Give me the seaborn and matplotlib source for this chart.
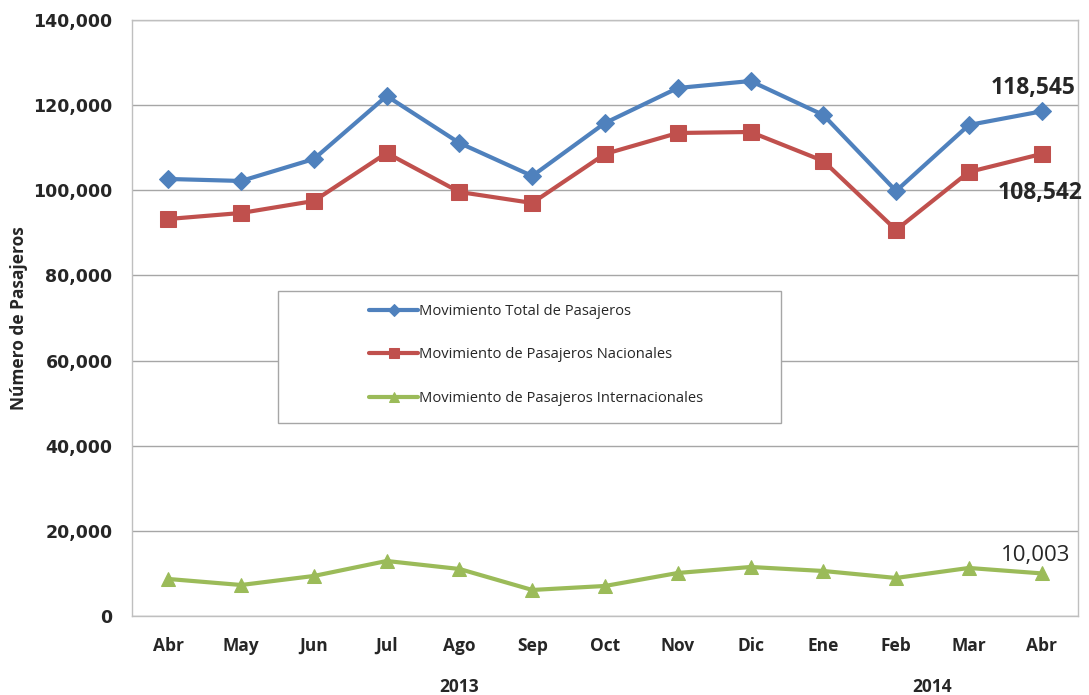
import matplotlib
matplotlib.use("Agg")
import matplotlib.pyplot as plt
from matplotlib.patches import Rectangle
import seaborn as sns
import pandas as pd
import numpy as np

months = ["Abr", "May", "Jun", "Jul", "Ago", "Sep", "Oct", "Nov", "Dic", "Ene", "Feb", "Mar", "Abr"]
total = [102660, 102190, 107350, 122150, 111110, 103360, 115810, 124030, 125670, 117690, 99840, 115340, 118545]
nacional = [93260, 94670, 97490, 108760, 99600, 97020, 108530, 113460, 113700, 106890, 90680, 104300, 108542]
internacional = [8690, 7280, 9400, 12920, 11040, 6110, 7050, 10100, 11510, 10570, 8930, 11280, 10003]
series_names = ["Movimiento Total de Pasajeros", "Movimiento de Pasajeros Nacionales",
                "Movimiento de Pasajeros Internacionales"]
years = ["2013", "2014"]
year_pos = [4, 10.5]

colors = ["#4F81BD", "#C0504D", "#9BBB59"]
markers = ["D", "s", "^"]
msizes = [9, 11, 10]

sns.set_style("white")
plt.rcParams['font.family'] = ['DejaVu Sans']

fig = plt.figure(figsize=(10.89, 6.95), dpi=100)
ax = fig.add_axes([0.1212, 0.1137, 0.8687, 0.8575])

idx = np.arange(len(months))
data = [total, nacional, internacional]
for name, vals, c, m, ms in zip(series_names, data, colors, markers, msizes):
    df = pd.DataFrame({"x": idx, "y": vals})
    sns.lineplot(data=df, x="x", y="y", ax=ax, color=c, linewidth=3, marker=m,
                 markersize=ms, markeredgecolor=c, label=name, zorder=3)

ax.set_xlim(-0.5, len(months) - 0.5)
ax.set_ylim(0, 140000)
ax.set_yticks(np.arange(0, 140001, 20000))
ax.yaxis.set_major_formatter(matplotlib.ticker.FuncFormatter(lambda v, p: f"{int(v):,}"))
ax.set_xticks(idx)
ax.set_xticklabels(months, fontfamily="Open Sans", fontweight="bold", fontsize=12.5)
for lab in ax.get_yticklabels():
    lab.set_fontweight("bold")
    lab.set_fontsize(12.5)
ax.tick_params(axis="both", length=0)
ax.tick_params(axis="x", pad=15)
ax.tick_params(axis="y", pad=14)
ax.grid(axis="y", color="#A6A6A6", linewidth=1)
ax.set_axisbelow(True)
for s in ax.spines.values():
    s.set_color("#BFBFBF")
    s.set_linewidth(1)
ax.set_xlabel("")
ax.set_ylabel("Número de Pasajeros", fontfamily="Open Sans", fontweight="bold", fontsize=12.5, labelpad=4)

for yr, pos in zip(years, year_pos):
    ax.text(pos, -0.12, yr, transform=ax.get_xaxis_transform(), ha="center", va="center",
            fontfamily="Open Sans", fontweight="bold", fontsize=12.5)

last = len(months) - 1
ax.annotate(f"{total[-1]:,}", (last, total[-1]), xytext=(-6, 17), textcoords="offset points",
            ha="center", va="center", fontfamily="Open Sans", fontweight="bold", fontsize=16.5)
ax.annotate(f"{nacional[-1]:,}", (last, nacional[-1]), xytext=(-1, -28), textcoords="offset points",
            ha="center", va="center", fontfamily="Open Sans", fontweight="bold", fontsize=16.5)
ax.annotate(f"{internacional[-1]:,}", (last, internacional[-1]), xytext=(-4, 13), textcoords="offset points",
            ha="center", va="center", fontfamily="Open Sans", fontsize=16)

# legend frame
ax.add_patch(Rectangle((0.1543, 0.3238), 0.5317, 0.2215, transform=ax.transAxes,
                       facecolor="white", edgecolor="#A6A6A6", linewidth=1, zorder=4))
leg = ax.legend(loc="center left", bbox_to_anchor=(0.243, 0.438), frameon=False,
                labelspacing=1.95, borderpad=0.0, handlelength=3.3, handletextpad=0.1,
                prop={"family": "Open Sans", "size": 10.6})
leg.set_zorder(5)
for h, ms in zip(leg.legend_handles, [6, 7, 7]):
    h.set_markersize(ms)
fig.savefig("out.png", dpi=100)
